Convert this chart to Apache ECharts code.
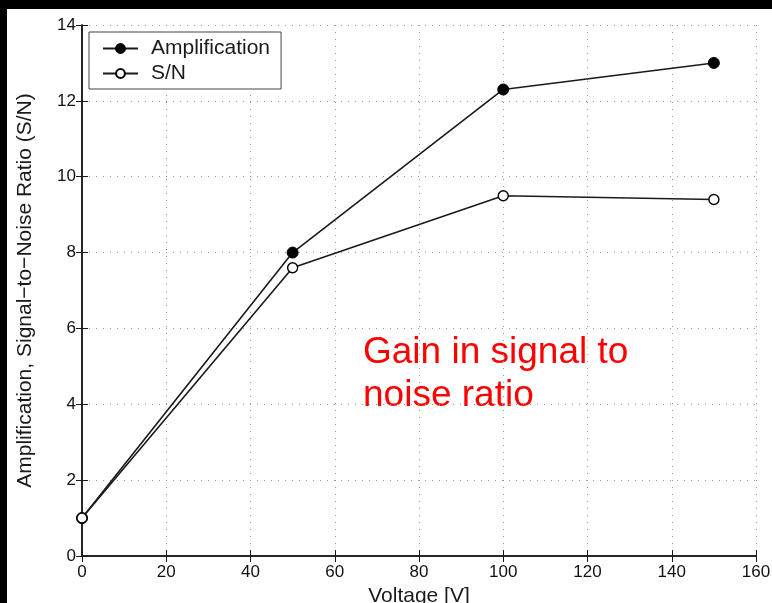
<!DOCTYPE html>
<html>
<head>
<meta charset="utf-8">
<title>Gain in signal to noise ratio</title>
<script src="https://cdn.jsdelivr.net/npm/echarts@6/dist/echarts.min.js"></script>
<style>
  html, body { margin: 0; padding: 0; background: #000; }
  #frame { position: absolute; left: 7px; top: 9px; width: 765px; height: 594px; background: #fff; }
  #chart { position: absolute; left: 0; top: 0; width: 772px; height: 603px; }
</style>
</head>
<body>
<div id="frame"></div>
<div id="chart"></div>
<script>
// data
var voltage = [0, 50, 100, 150];
var amplification = [1, 8, 12.3, 13];
var signalToNoise = [1, 7.6, 9.5, 9.4];

var font = 'Liberation Sans, Arial, sans-serif';
var ink = '#1a1a1a';

function pairs(xs, ys) {
  return xs.map(function (x, i) { return [x, ys[i]]; });
}

var myChart = echarts.init(document.getElementById('chart'), null, { renderer: 'canvas' });

var option = {
  backgroundColor: 'transparent',
  animation: false,
  grid: { left: 82, right: 16, top: 25, bottom: 47, containLabel: false, outerBoundsMode: 'none' },
  legend: {
    orient: 'vertical',
    left: 89,
    top: 32,
    itemWidth: 35,
    itemHeight: 11,
    itemGap: 4,
    padding: [6, 11, 5, 13],
    borderColor: '#444',
    borderWidth: 1,
    borderRadius: 0,
    backgroundColor: '#fff',
    textStyle: { fontFamily: font, fontSize: 21, lineHeight: 19, color: ink, padding: [0, 0, 0, 8] },
    data: ['Amplification', 'S/N']
  },
  xAxis: [{
    type: 'value', min: 0, max: 160, interval: 20,
    name: 'Voltage [V]', nameLocation: 'middle', nameGap: 24,
    nameTextStyle: { fontFamily: font, fontSize: 21, color: ink },
    axisLine: { lineStyle: { color: ink, width: 1.5 } },
    axisTick: { inside: true, length: 6, lineStyle: { color: ink } },
    axisLabel: { fontFamily: font, fontSize: 17, color: '#111', margin: 8 },
    splitLine: { show: true, lineStyle: { type: [1, 6], color: '#999' } }
  }, {
    type: 'value', min: 0, max: 160, interval: 20, position: 'top',
    axisLine: { show: true, lineStyle: { color: ink, width: 1.5 } },
    axisTick: { inside: true, length: 6, lineStyle: { color: ink } },
    axisLabel: { show: false }, splitLine: { show: false }
  }],
  yAxis: [{
    type: 'value', min: 0, max: 14, interval: 2,
    name: 'Amplification, Signal\u2212to\u2212Noise Ratio (S/N)', nameLocation: 'middle', nameGap: 46,
    nameTextStyle: { fontFamily: font, fontSize: 21, color: ink },
    axisLine: { show: true, lineStyle: { color: ink, width: 1.5 } },
    axisTick: { show: true, inside: true, length: 6, lineStyle: { color: ink } },
    axisLabel: { fontFamily: font, fontSize: 17, color: '#111', margin: 6 },
    splitLine: { show: true, lineStyle: { type: [1, 6], color: '#999' } }
  }, {
    type: 'value', min: 0, max: 14, interval: 2, position: 'right',
    axisLine: { show: true, lineStyle: { color: ink, width: 1.5 } },
    axisTick: { show: true, inside: true, length: 6, lineStyle: { color: ink } },
    axisLabel: { show: false }, splitLine: { show: false }
  }],
  series: [{
    name: 'Amplification',
    type: 'line',
    data: pairs(voltage, amplification),
    symbol: 'circle', symbolSize: 11,
    lineStyle: { color: ink, width: 1.6 },
    itemStyle: { color: '#000', borderColor: '#000', borderWidth: 1 },
    z: 3
  }, {
    name: 'S/N',
    type: 'line',
    data: pairs(voltage, signalToNoise),
    symbol: 'circle', symbolSize: 10,
    lineStyle: { color: ink, width: 1.6 },
    itemStyle: { color: '#fff', borderColor: '#000', borderWidth: 1.4 },
    z: 4
  }],
  graphic: [{
    type: 'text', left: 363, top: 331,
    style: {
      text: 'Gain in signal to\nnoise ratio',
      fontFamily: font, fontSize: 37, lineHeight: 43,
      fill: '#ff0000'
    }
  }]
};

myChart.setOption(option);
</script>
</body>
</html>
